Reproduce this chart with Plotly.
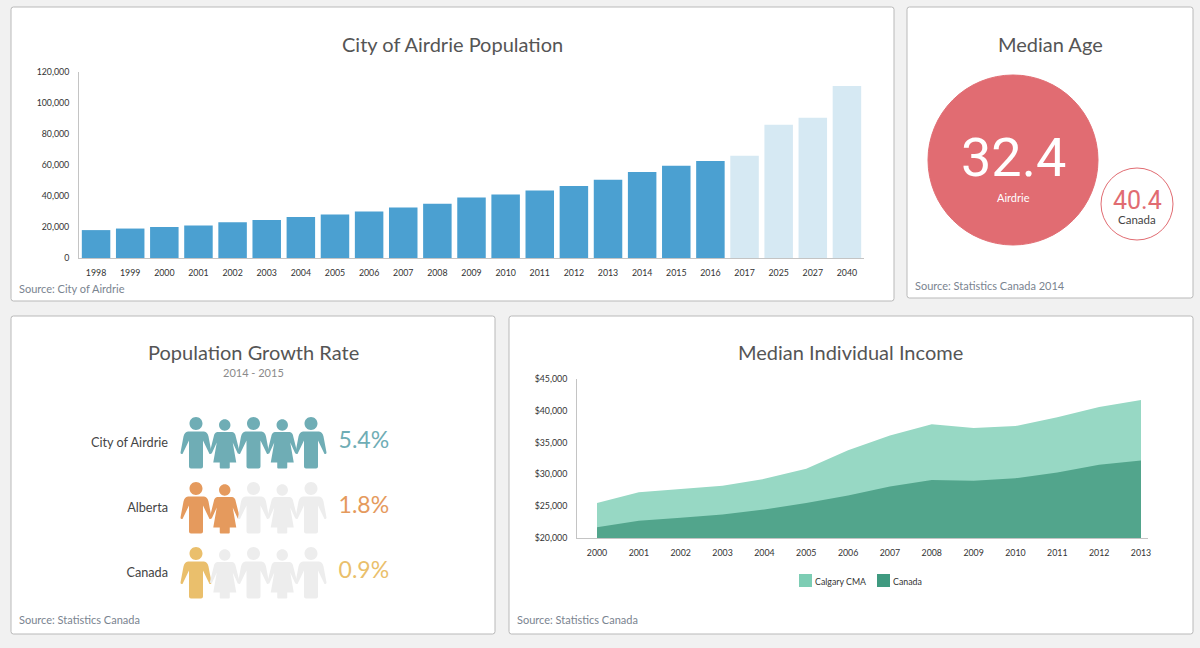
import plotly.graph_objects as go

# population panel
pop_years = ['1998', '1999', '2000', '2001', '2002', '2003', '2004', '2005', '2006', '2007', '2008', '2009',
             '2010', '2011', '2012', '2013', '2014', '2015', '2016', '2017', '2025', '2027', '2040']
pop_values = [18000, 19000, 20000, 21000, 23000, 24500, 26500, 28000, 30000, 32500, 35000, 39000,
              41000, 43500, 46500, 50500, 55500, 59500, 62500, 66000, 86000, 90500, 111000]
projected_years = ['2017', '2025', '2027', '2040']

# median age panel
age_places = ['Airdrie', 'Canada']
age_values = [32.4, 40.4]

# growth rate panel
growth_places = ['City of Airdrie', 'Alberta', 'Canada']
growth_rates = [5.4, 1.8, 0.9]
growth_colors = ['#6fadb5', '#e59a5d', '#eabf6c']

# income panel
income_years = [2000, 2001, 2002, 2003, 2004, 2005, 2006, 2007, 2008, 2009, 2010, 2011, 2012, 2013]
income_calgary = [25500, 27200, 27700, 28200, 29300, 30900, 33800, 36100, 37900, 37300, 37600, 39000, 40600, 41700]
income_canada = [21700, 22700, 23200, 23700, 24500, 25500, 26700, 28100, 29100, 29000, 29400, 30300, 31500, 32200]

W, H = 1200, 648
TEXT = 'Lato'


def px_x(x):
    return x / W


def px_y(y):
    return 1 - y / H


def circle(cx, cy, r):
    k = r * 0.5523
    return (f'M {cx-r},{cy} C {cx-r},{cy+k} {cx-k},{cy+r} {cx},{cy+r} '
            f'C {cx+k},{cy+r} {cx+r},{cy+k} {cx+r},{cy} '
            f'C {cx+r},{cy-k} {cx+k},{cy-r} {cx},{cy-r} '
            f'C {cx-k},{cy-r} {cx-r},{cy-k} {cx-r},{cy} Z')


def panel_path(x0, y0, x1, y1, r=2.5):
    rx, ry = r / W, r / H
    a, b, c, d = px_x(x0), px_x(x1), px_y(y1), px_y(y0)
    return (f'M {a+rx},{c} L {b-rx},{c} Q {b},{c} {b},{c+ry} L {b},{d-ry} Q {b},{d} {b-rx},{d} '
            f'L {a+rx},{d} Q {a},{d} {a},{d-ry} L {a},{c+ry} Q {a},{c} {a+rx},{c} Z')


# icon outlines in pixels around the anchor, y pointing up
MAN = circle(0, 19, 6.5) + (' M -8,11 Q -11.5,10.5 -12.5,6 L -15.5,-10 Q -15.5,-12 -13.5,-11.5 L -7,2 L -7,-24 '
                            'Q -7,-26 -5,-26 L 5,-26 Q 7,-26 7,-24 L 7,2 L 13.5,-11.5 Q 15.5,-12 15.5,-10 '
                            'L 12.5,6 Q 11.5,10.5 8,11 Z')
WOMAN = circle(0, 17.5, 5.7) + (' M -7.5,10.5 Q -10.5,10 -11,6 L -15,-10 L -13,-11 L -8,0 L -8.5,-3 L -11.5,-20 L -5,-20 '
                                'L -5,-25 Q -5,-26 -4,-26 L 4,-26 Q 5,-26 5,-25 L 5,-20 L 11.5,-20 L 8.5,-3 L 8,0 '
                                'L 13,-11 L 15,-10 L 11,6 Q 10.5,10 7.5,10.5 Z')

fig = go.Figure()

fig.add_trace(go.Bar(
    x=pop_years, y=pop_values, xaxis='x', yaxis='y', showlegend=False,
    marker=dict(color=['#d6e9f3' if y in projected_years else '#4ba0d1' for y in pop_years], line_width=0),
))

fig.add_trace(go.Scatter(
    x=age_places, y=age_values, xaxis='x2', yaxis='y2', mode='markers', showlegend=False,
    marker=dict(size=[170, 72], color=['#e16c72', '#ffffff'], line=dict(color=['#e16c72', '#e16c72'], width=1),
                opacity=1),
    cliponaxis=False,
))

fig.add_trace(go.Scatter(
    x=[4.96] * len(growth_places), y=growth_places, xaxis='x3', yaxis='y3', mode='text', showlegend=False,
    text=[f'{r}%' for r in growth_rates], textposition='middle right',
    textfont=dict(family=TEXT, size=23, color=growth_colors),
))

fig.add_trace(go.Scatter(
    x=income_years, y=income_calgary, xaxis='x4', yaxis='y4', mode='lines', fill='tozeroy', name='Calgary CMA',
    fillcolor='#97d8c4', line=dict(width=0), showlegend=False,
))
fig.add_trace(go.Scatter(
    x=income_years, y=income_canada, xaxis='x4', yaxis='y4', mode='lines', fill='tozeroy', name='Canada',
    fillcolor='#52a58c', line=dict(width=0), showlegend=False,
))

shapes = []
for x0, y0, x1, y1 in [(11, 7, 894, 301), (907, 7, 1193, 298), (11, 316, 495, 634), (509, 316, 1193, 634)]:
    shapes.append(dict(type='path', xref='paper', yref='paper', layer='below', path=panel_path(x0, y0, x1, y1),
                       fillcolor='#ffffff', line=dict(color='#b9b9b9', width=1)))

for place, rate, color in zip(growth_places, growth_rates, growth_colors):
    for col in range(5):
        shapes.append(dict(type='path', xref='x3', yref='y3', xsizemode='pixel', ysizemode='pixel',
                           xanchor=col, yanchor=place, path=WOMAN if col % 2 else MAN,
                           fillcolor=color if col < round(rate) else '#ededed', line_width=0))

annotations = []


def add_text(x, y, text, size, color, anchor='center'):
    annotations.append(dict(xref='paper', yref='paper', x=px_x(x), y=px_y(y), text=text, showarrow=False,
                            xanchor=anchor, yanchor='middle', font=dict(family=TEXT, size=size, color=color)))


add_text(452, 43.5, 'City of Airdrie Population', 20, '#555555')
add_text(1050, 43.5, 'Median Age', 20, '#555555')
add_text(253, 351.5, 'Population Growth Rate', 20, '#555555')
add_text(851, 351.5, 'Median Individual Income', 20, '#555555')
add_text(253, 372, '2014 - 2015', 11, '#8a8a8a')
add_text(17, 288, 'Source: City of Airdrie', 11, '#7a8490', 'left')
add_text(913, 285, 'Source: Statistics Canada 2014', 11, '#7a8490', 'left')
add_text(17, 619, 'Source: Statistics Canada', 11, '#7a8490', 'left')
add_text(515, 619, 'Source: Statistics Canada', 11, '#7a8490', 'left')

# legend, small squares tight against their labels
for x, name, color in [(799, 'Calgary CMA', '#7dcdb4'), (877, 'Canada', '#3f9a80')]:
    shapes.append(dict(type='rect', xref='paper', yref='paper', x0=px_x(x), x1=px_x(x + 13),
                       y0=px_y(587), y1=px_y(574), fillcolor=color, line_width=0))
    add_text(x + 14, 581, name, 8.8, '#333333', 'left')

# bubble labels follow the bubbles
for place, value, num_size, num_shift, num_color, lab_shift, lab_size, lab_color in [
        (age_places[0], age_values[0], 54, 3, '#ffffff', -37, 11, '#ffffff'),
        (age_places[1], age_values[1], 25, 4, '#e16c72', -15, 11.5, '#444444')]:
    annotations.append(dict(xref='x2', yref='y2', x=place, y=value, text=str(value), showarrow=False, yshift=num_shift,
                            font=dict(family='Roboto', size=num_size, color=num_color)))
    annotations.append(dict(xref='x2', yref='y2', x=place, y=value, text=place, showarrow=False, yshift=lab_shift,
                            font=dict(family=TEXT, size=lab_size, color=lab_color)))

tick_font = dict(family=TEXT, size=8.8, color='#333333')

fig.update_layout(
    width=W, height=H, margin=dict(l=0, r=0, t=0, b=0, autoexpand=False), autosize=False,
    paper_bgcolor='#f1f1f1', plot_bgcolor='rgba(0,0,0,0)', bargap=0.165, showlegend=False,
    shapes=shapes, annotations=annotations,
    # population
    xaxis=dict(domain=[px_x(79), px_x(864)], anchor='y', type='category', range=[-0.5, 22.5], showgrid=False,
               showline=True, linecolor='#c4c4c4', ticks='', tickfont=tick_font, tickangle=0, ticklabelstandoff=6),
    yaxis=dict(domain=[px_y(258), px_y(72)], anchor='x', range=[0, 120000], dtick=20000, tickformat=',',
               showgrid=False, zeroline=False, showline=True, linecolor='#c4c4c4', ticks='', tickfont=tick_font,
               ticklabelstandoff=7),
    # median age, bubbles sit on the category and value
    xaxis2=dict(domain=[px_x(907), px_x(1193)], anchor='y2', type='category', visible=False,
                range=[(907 - 1013) / 124, (1193 - 1013) / 124]),
    yaxis2=dict(domain=[px_y(298), px_y(7)], anchor='x2', visible=False,
                range=[32.4 + (298 - 160) / 5.5, 32.4 - (160 - 7) / 5.5]),
    # growth rate
    xaxis3=dict(domain=[px_x(175), px_x(420)], anchor='y3', visible=False,
                range=[(175 - 196) / 28.75, (420 - 196) / 28.75]),
    yaxis3=dict(domain=[px_y(606), px_y(410)], anchor='x3', type='category', categoryorder='array',
                categoryarray=growth_places, range=[(606 - 442.5) / 65, (410 - 442.5) / 65], showgrid=False,
                zeroline=False, showline=False, ticks='', ticklabelstandoff=6,
                tickfont=dict(family=TEXT, size=12.7, color='#444444')),
    # income
    xaxis4=dict(domain=[px_x(577), px_x(1148)], anchor='y4', range=[2000 - 20 / 41.85, 2013 + 7 / 41.85], dtick=1,
                showgrid=False, zeroline=False, showline=True, linecolor='#c4c4c4', ticks='', tickfont=tick_font,
                ticklabelstandoff=6),
    yaxis4=dict(domain=[px_y(538), px_y(379)], anchor='x4', range=[20000, 45000], dtick=5000, tickformat='$,',
                showgrid=False, zeroline=False, showline=True, linecolor='#c4c4c4', ticks='', tickfont=tick_font,
                ticklabelstandoff=7),
)

fig.write_html('out.html', config=dict(displayModeBar=False), post_script="document.body.style.margin='0';")
